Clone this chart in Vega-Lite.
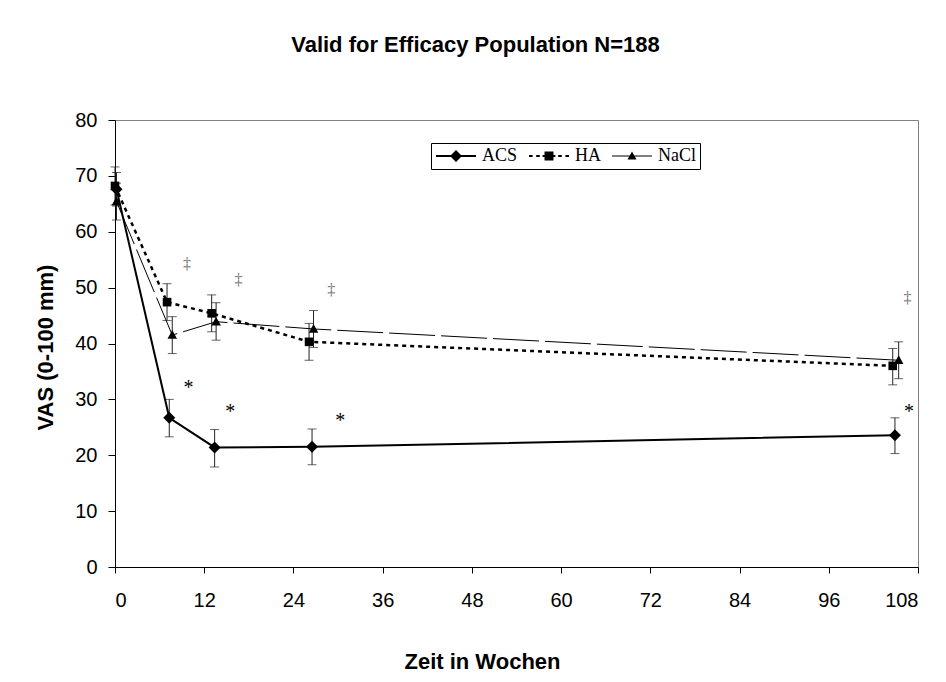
{
  "$schema": "https://vega.github.io/schema/vega-lite/v6.json",
  "width": 803,
  "height": 447,
  "autosize": "none",
  "padding": {"left": 115, "top": 120, "right": 28, "bottom": 115},
  "background": "white",
  "title": {
    "text": "Valid for Efficacy Population N=188",
    "font": "Liberation Sans",
    "fontSize": 22,
    "fontWeight": "bold",
    "color": "black",
    "anchor": "middle",
    "dx": -41,
    "offset": 36,
    "baseline": "alphabetic"
  },
  "config": {
    "view": {"stroke": "#808080", "strokeWidth": 1},
    "axis": {
      "labelFont": "Liberation Sans",
      "titleFont": "Liberation Sans",
      "labelFontSize": 20,
      "titleFontSize": 22,
      "titleFontWeight": "bold",
      "labelColor": "black",
      "titleColor": "black",
      "domainColor": "black",
      "tickColor": "black",
      "grid": false
    }
  },
  "datasets": {
    "pts": [
      {"series": "ACS", "week": 0.2, "mean": 67.6, "lo": 64.6, "hi": 70.6},
      {"series": "ACS", "week": 7.3, "mean": 26.7, "lo": 23.3, "hi": 30.0},
      {"series": "ACS", "week": 13.4, "mean": 21.4, "lo": 17.9, "hi": 24.6},
      {"series": "ACS", "week": 26.5, "mean": 21.5, "lo": 18.3, "hi": 24.7},
      {"series": "ACS", "week": 104.9, "mean": 23.6, "lo": 20.3, "hi": 26.7},
      {"series": "HA", "week": 0.0, "mean": 68.2, "lo": 64.8, "hi": 71.6},
      {"series": "HA", "week": 7.0, "mean": 47.4, "lo": 44.1, "hi": 50.7},
      {"series": "HA", "week": 13.0, "mean": 45.4, "lo": 42.1, "hi": 48.7},
      {"series": "HA", "week": 26.1, "mean": 40.3, "lo": 37.0, "hi": 43.6},
      {"series": "HA", "week": 104.6, "mean": 36.0, "lo": 32.6, "hi": 39.1},
      {"series": "NaCl", "week": 0.2, "mean": 65.4, "lo": 62.1, "hi": 68.7},
      {"series": "NaCl", "week": 7.7, "mean": 41.5, "lo": 38.2, "hi": 44.8},
      {"series": "NaCl", "week": 13.6, "mean": 43.9, "lo": 40.6, "hi": 47.3},
      {"series": "NaCl", "week": 26.7, "mean": 42.6, "lo": 39.3, "hi": 45.9},
      {"series": "NaCl", "week": 105.4, "mean": 37.0, "lo": 33.7, "hi": 40.3}
    ],
    "notes": [
      {"kind": "dagger", "week": 9.7, "y": 54.0, "label": "‡"},
      {"kind": "dagger", "week": 16.6, "y": 51.1, "label": "‡"},
      {"kind": "dagger", "week": 29.1, "y": 49.4, "label": "‡"},
      {"kind": "dagger", "week": 106.6, "y": 47.9, "label": "‡"},
      {"kind": "star", "week": 9.9, "y": 33.0, "label": "*"},
      {"kind": "star", "week": 15.5, "y": 28.6, "label": "*"},
      {"kind": "star", "week": 30.3, "y": 27.1, "label": "*"},
      {"kind": "star", "week": 106.8, "y": 28.6, "label": "*"}
    ]
  },
  "encoding": {
    "x": {
      "field": "week",
      "type": "quantitative",
      "scale": {"domain": [0, 108], "nice": false, "zero": false},
      "axis": {
        "values": [0, 12, 24, 36, 48, 60, 72, 84, 96, 108],
        "title": "Zeit in Wochen",
        "tickSize": 6,
        "labelPadding": 17,
        "titleX": 367,
        "titleY": 101,
        "titleAlign": "center",
        "titleBaseline": "alphabetic"
      }
    }
  },
  "layer": [
    {
      "data": {"name": "pts"},
      "mark": {"type": "rule", "color": "#222222", "strokeWidth": 1},
      "encoding": {
        "y": {
          "field": "lo",
          "type": "quantitative",
          "scale": {"domain": [0, 80], "nice": false},
          "axis": {
            "values": [0, 10, 20, 30, 40, 50, 60, 70, 80],
            "title": "VAS (0-100 mm)",
            "tickSize": 7,
            "labelPadding": 11,
            "titleAngle": 270,
            "titleX": -63,
            "titleY": 227,
            "titleAlign": "center",
            "titleBaseline": "alphabetic"
          }
        },
        "y2": {"field": "hi"}
      }
    },
    {
      "data": {"name": "pts"},
      "mark": {"type": "tick", "orient": "horizontal", "color": "#222222", "size": 9, "thickness": 1},
      "encoding": {"y": {"field": "lo", "type": "quantitative"}}
    },
    {
      "data": {"name": "pts"},
      "mark": {"type": "tick", "orient": "horizontal", "color": "#222222", "size": 9, "thickness": 1},
      "encoding": {"y": {"field": "hi", "type": "quantitative"}}
    },
    {
      "data": {"name": "pts"},
      "transform": [{"filter": "datum.series === 'NaCl'"}],
      "mark": {"type": "line", "color": "black", "strokeWidth": 1, "strokeDash": [46, 6]},
      "encoding": {"y": {"field": "mean", "type": "quantitative"}}
    },
    {
      "data": {"name": "pts"},
      "transform": [{"filter": "datum.series === 'HA'"}],
      "mark": {"type": "line", "color": "black", "strokeWidth": 2.5, "strokeDash": [4, 4]},
      "encoding": {"y": {"field": "mean", "type": "quantitative"}}
    },
    {
      "data": {"name": "pts"},
      "transform": [{"filter": "datum.series === 'ACS'"}],
      "mark": {"type": "line", "color": "black", "strokeWidth": 2},
      "encoding": {"y": {"field": "mean", "type": "quantitative"}}
    },
    {
      "data": {"name": "pts"},
      "transform": [{"filter": "datum.series === 'NaCl'"}],
      "mark": {"type": "point", "filled": true, "color": "black", "opacity": 1, "size": 100, "shape": "M0,-1L0.95,0.75L-0.95,0.75Z"},
      "encoding": {"y": {"field": "mean", "type": "quantitative"}}
    },
    {
      "data": {"name": "pts"},
      "transform": [{"filter": "datum.series === 'HA'"}],
      "mark": {"type": "point", "filled": true, "color": "black", "opacity": 1, "size": 100, "shape": "M-0.86,-0.86H0.86V0.86H-0.86Z"},
      "encoding": {"y": {"field": "mean", "type": "quantitative"}}
    },
    {
      "data": {"name": "pts"},
      "transform": [{"filter": "datum.series === 'ACS'"}],
      "mark": {"type": "point", "filled": true, "color": "black", "opacity": 1, "size": 100, "shape": "M0,-1.2L1.2,0L0,1.2L-1.2,0Z"},
      "encoding": {"y": {"field": "mean", "type": "quantitative"}}
    },
    {
      "data": {"name": "pts"},
      "transform": [{"filter": "false"}],
      "mark": {"type": "point", "filled": true, "color": "black", "opacity": 1},
      "encoding": {
        "y": {"field": "mean", "type": "quantitative"},
        "shape": {
          "field": "series",
          "type": "nominal",
          "scale": {
            "domain": ["ACS", "HA", "NaCl"],
            "range": [
              "M-2.5,-0.125H2.5V0.125H-2.5ZM0,-0.75L0.75,0L0,0.75L-0.75,0Z",
              "M-2.5,-0.125H-2.05V0.125H-2.5ZM-1.6,-0.125H-1.15V0.125H-1.6ZM-0.8,-0.125H0.8V0.125H-0.8ZM1.15,-0.125H1.6V0.125H1.15ZM2.05,-0.125H2.5V0.125H2.05ZM-0.56,-0.56H0.56V0.56H-0.56Z",
              "M-2.5,-0.07H2.5V0.07H-2.5ZM0,-0.56L0.56,0.44L-0.56,0.44Z"
            ]
          },
          "legend": {
            "orient": "none",
            "legendX": 316,
            "legendY": 23,
            "direction": "horizontal",
            "title": null,
            "strokeColor": "black",
            "fillColor": "white",
            "padding": 4,
            "labelFont": "Liberation Serif",
            "labelFontSize": 18,
            "labelColor": "black",
            "symbolSize": 256,
            "symbolOffset": 12,
            "labelOffset": 17,
            "columnPadding": 8,
            "symbolFillColor": "black",
            "symbolStrokeColor": "black",
            "symbolOpacity": 1
          }
        }
      }
    },
    {
      "data": {"name": "notes"},
      "transform": [{"filter": "datum.kind === 'dagger'"}],
      "mark": {"type": "text", "font": "Liberation Serif", "fontSize": 16, "color": "#707070", "align": "center", "baseline": "alphabetic", "dy": 4},
      "encoding": {
        "y": {"field": "y", "type": "quantitative"},
        "text": {"field": "label", "type": "nominal"}
      }
    },
    {
      "data": {"name": "notes"},
      "transform": [{"filter": "datum.kind === 'star'"}],
      "mark": {"type": "text", "font": "Liberation Serif", "fontSize": 20, "color": "black", "align": "center", "baseline": "alphabetic", "dy": 11},
      "encoding": {
        "y": {"field": "y", "type": "quantitative"},
        "text": {"field": "label", "type": "nominal"}
      }
    }
  ]
}
